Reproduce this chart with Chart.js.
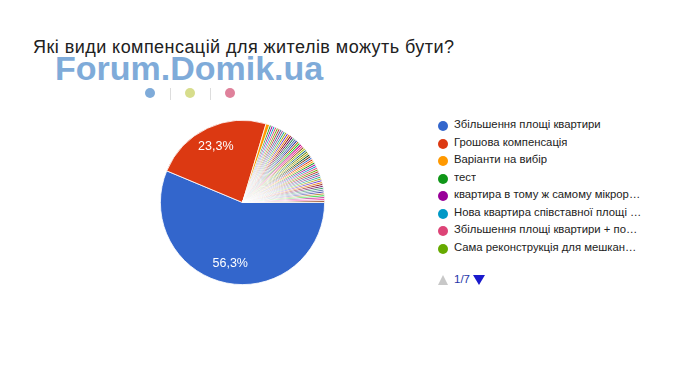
<!DOCTYPE html>
<html>
<head>
<meta charset="utf-8">
<script src="https://cdn.jsdelivr.net/npm/chart.js@4.4.1/dist/chart.umd.min.js"></script>
<style>
  body { margin: 0; background: #fff; font-family: Arial, "Liberation Sans", sans-serif; }
  #page { position: relative; width: 700px; height: 378px; overflow: hidden; }
  .title { position: absolute; left: 33px; top: 37px; font-size: 18px; letter-spacing: 0.45px; color: #212121; white-space: nowrap; }
  .watermark { position: absolute; left: 55px; top: 49px; font-size: 34px; font-weight: bold; color: #7fabd9; white-space: nowrap; }
  .wm-dot { position: absolute; width: 10px; height: 10px; border-radius: 50%; top: 88px; }
  .wm-bar { position: absolute; width: 1px; height: 12px; top: 88px; background: #ddd; }
  #pie-wrap { position: absolute; left: 150px; top: 110px; width: 185px; height: 185px; }
  #legend { position: absolute; left: 438px; top: 117px; }
  .legend-row { position: relative; height: 17.5px; font-size: 11.3px; color: #222; }
  .legend-dot { position: absolute; left: 0; top: 4px; width: 10px; height: 10px; border-radius: 50%; }
  .legend-text { position: absolute; left: 16px; top: 1px; max-width: 188px; white-space: nowrap; overflow: hidden; text-overflow: ellipsis; }
  .tri-up { position: absolute; left: 438px; top: 275px; width: 0; height: 0; border-left: 5.5px solid transparent; border-right: 5.5px solid transparent; border-bottom: 10px solid #c8c8c8; }
  .tri-down { position: absolute; left: 473px; top: 275px; width: 0; height: 0; border-left: 6px solid transparent; border-right: 6px solid transparent; border-top: 10px solid #1a1acc; }
  .page-num { position: absolute; left: 454px; top: 273px; font-size: 11.5px; color: #2536a8; }
</style>
</head>
<body>
<div id="page">
  <div class="title">Які види компенсацій для жителів можуть бути?</div>
  <div class="watermark">Forum.Domik.ua</div>
  <div class="wm-dot" style="left:145px;background:#7fabd9"></div>
  <div class="wm-bar" style="left:170px"></div>
  <div class="wm-dot" style="left:185px;background:#d7dd8c"></div>
  <div class="wm-bar" style="left:210px"></div>
  <div class="wm-dot" style="left:225px;background:#df819b"></div>
  <div id="pie-wrap"><canvas id="pie-chart" width="185" height="185"></canvas></div>
  <div id="legend"></div>
  <div class="tri-up"></div>
  <div class="page-num">1/7</div>
  <div class="tri-down"></div>
</div>
<script>
// answers shown in the legend (first page of 7)
const knownAnswers = [
    'Збільшення площі квартири',
    'Грошова компенсація',
    'Варіанти на вибір',
    'тест',
    'квартира в тому ж самому мікрорайоні',
    'Нова квартира співставної площі в тому ж районі',
    'Збільшення площі квартири + постійна компенсація',
    'Сама реконструкція для мешканців будинку'
];

// number of responses per answer (270 total)
const responseCounts = [
    152, 63, 2, 1, 1, 1, 1, 1, 1, 1,
    1, 1, 1, 1, 1, 1, 1, 1, 1, 1,
    1, 1, 1, 1, 1, 1, 1, 1, 1, 1,
    1, 1, 1, 1, 1, 1, 1, 1, 1, 1,
    1, 1, 1, 1, 1, 1, 1, 1, 1, 1,
    1, 1, 1, 1, 1, 1
];

// google charts palette
const palette = [
    '#3366cc', '#dc3912', '#ff9900', '#109618', '#990099', '#0099c6', '#dd4477', '#66aa00',
    '#b82e2e', '#316395', '#994499', '#22aa99', '#aaaa11', '#6633cc', '#e67300', '#8b0707',
    '#651067', '#329262', '#5574a6', '#3b3eac', '#b77322', '#16d620', '#b91383', '#f4359e',
    '#9c5935', '#a9c413', '#2a778d', '#668d1c', '#bea413', '#0c5922', '#743411'
];

const answerLabels = responseCounts.map((_, i) => knownAnswers[i] || ('Інша відповідь ' + (i + 1)));
const sliceColors = responseCounts.map((_, i) => palette[i % palette.length]);
const legendPageSize = 8;

// legend (first page)
const legendEl = document.getElementById('legend');
answerLabels.slice(0, legendPageSize).forEach((label, i) => {
    const row = document.createElement('div');
    row.className = 'legend-row';
    row.innerHTML = `<span class="legend-dot" style="background:${sliceColors[i]}"></span><span class="legend-text">${label}</span>`;
    legendEl.appendChild(row);
});

// percent labels inside the big slices
const percentLabels = {
    id: 'percentLabels',
    afterDatasetsDraw(chart) {
        const ctx = chart.ctx;
        const meta = chart.getDatasetMeta(0);
        const total = responseCounts.reduce((a, b) => a + b, 0);
        ctx.save();
        ctx.fillStyle = '#fff';
        ctx.font = '12.5px Arial, "Liberation Sans", sans-serif';
        ctx.textAlign = 'center';
        ctx.textBaseline = 'middle';
        meta.data.forEach((arc, i) => {
            const share = responseCounts[i] / total;
            if (share < 0.05) return;
            const mid = (arc.startAngle + arc.endAngle) / 2;
            const r = arc.outerRadius * 0.76;
            const text = (share * 100).toFixed(1).replace('.', ',') + '%';
            ctx.fillText(text, arc.x + Math.cos(mid) * r, arc.y + Math.sin(mid) * r);
        });
        ctx.restore();
    }
};

new Chart(document.getElementById('pie-chart'), {
    type: 'pie',
    data: {
        labels: answerLabels,
        datasets: [{
            data: responseCounts,
            backgroundColor: sliceColors,
            borderColor: '#ffffff',
            borderWidth: 0.8
        }]
    },
    options: {
        responsive: false,
        animation: false,
        rotation: 90,
        layout: { padding: 10 },
        plugins: {
            legend: { display: false },
            tooltip: { enabled: false }
        }
    },
    plugins: [percentLabels]
});
</script>
</body>
</html>
